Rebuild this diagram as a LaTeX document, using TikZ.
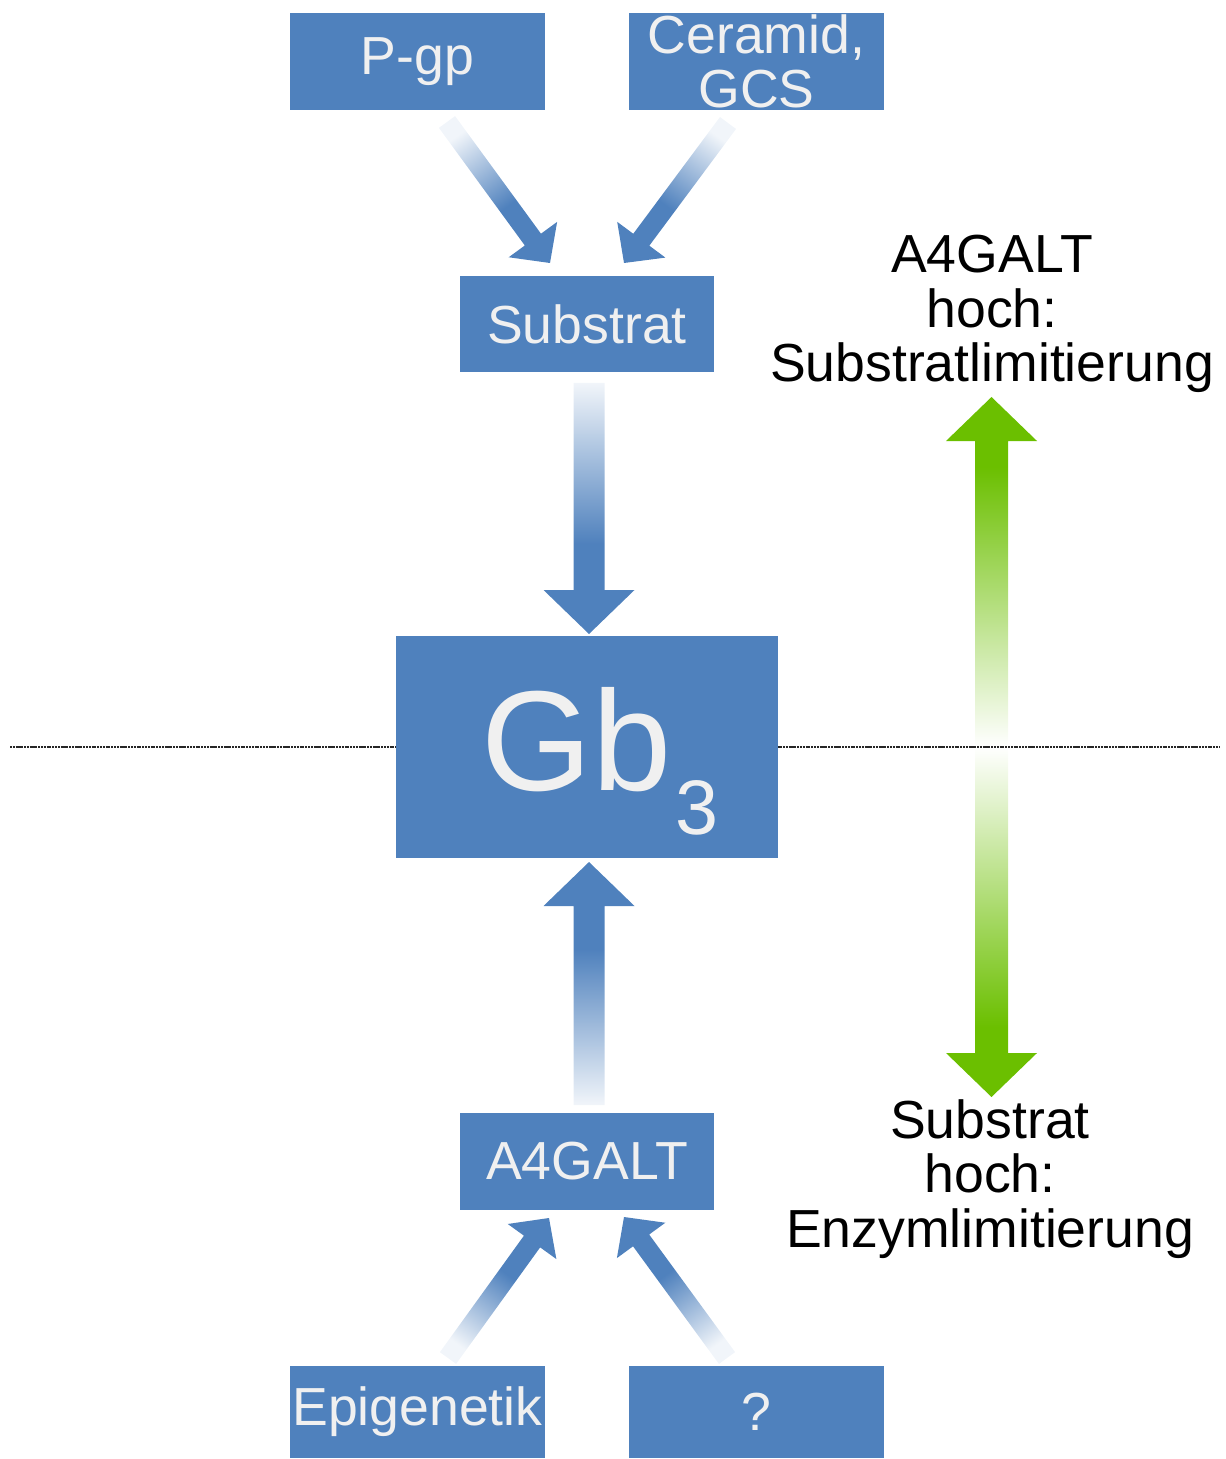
\documentclass[tikz,border=0pt]{standalone}
\usepackage{fontspec}
\setmainfont{Liberation Sans}
\usetikzlibrary{calc}
\definecolor{boxblue}{RGB}{79,129,189}
\definecolor{boxtext}{RGB}{240,240,240}
\definecolor{arrowgreen}{RGB}{107,191,0}
\pgfdeclareverticalshading{bluefade}{100bp}{color(0bp)=(boxblue); color(25bp)=(boxblue); color(43bp)=(boxblue); color(75bp)=(boxblue!8); color(100bp)=(boxblue!8)}
\pgfdeclareverticalshading{greenfade}{100bp}{color(0bp)=(arrowgreen); color(30bp)=(arrowgreen); color(50bp)=(white); color(70bp)=(arrowgreen); color(100bp)=(arrowgreen)}
\newcommand{\fadearrow}[6]{%
  \coordinate (N) at ($(#2)!#5!(#1)$);
  \shade[shading=bluefade, shading angle=#6] ($(#1)!#3!90:(#2)$) -- ($(N)!#3!90:(#2)$) -- ($(N)!#4!90:(#2)$) -- (#2)
    -- ($(N)!#4!-90:(#2)$) -- ($(N)!#3!-90:(#2)$) -- ($(#1)!#3!-90:(#2)$) -- cycle;}

\begin{document}
\begin{tikzpicture}[x=0.02cm, y=-0.02cm,
    box/.style={fill=boxblue, text=boxtext, minimum width=5.1cm, minimum height=1.94cm, inner sep=0pt, font=\fontsize{30.5}{31}\selectfont},
    note/.style={align=center, inner sep=0pt, font=\fontsize{30.5}{31}\selectfont}]
    \useasboundingbox (0,0) rectangle (1225,1459);
    \node[box] (P) at (417.5,61.5) {P-gp};
    \node[box] (C) at (756.5,61.5) {};
    \node[note, text=boxtext] (CT) at (C) {Ceramid,\\GCS};
    \node[box] (S) at (587,324) {Substrat};
    \node[box] (A) at (587,1161.5) {A4GALT};
    \node[box, minimum height=1.84cm] (E) at (417.5,1412) {Epigenetik};
    \node[box, minimum height=1.84cm] (Q) at (756.5,1412) {?};
    \coordinate (H1) at (991.5,397);
    \coordinate (H2) at (991.5,1097);
    \shade[shading=greenfade] (H1) -- (1037,441) -- (1008,441) -- (1008,1053) -- (1037,1053) -- (H2)
        -- (946,1053) -- (975,1053) -- (975,441) -- (946,441) -- cycle;
    \coordinate (L1) at (10,747);
    \coordinate (L2) at (1220,747);
    \draw[line width=0.7pt, black!85, dash pattern=on 1.2pt off 0.4pt] (L1) -- (L2);
    \node[box, minimum width=7.64cm, minimum height=4.44cm] (G) at (587,747) {};
    \node[anchor=base west, text=boxtext, inner sep=0pt, font=\fontsize{81}{81}\selectfont] (GT) at (481,790)
        {Gb\kern0.08cm\raisebox{-0.9cm}{\fontsize{44}{44}\selectfont 3}};
    \node[note, anchor=north] (T1) at (992,235) {A4GALT\\hoch:\\Substratlimitierung};
    \node[note, anchor=north] (T2) at (990,1099) {Substrat\\hoch:\\Enzymlimitierung};
    \coordinate (P1) at (447,122);
    \coordinate (S1) at (550,263);
    \coordinate (C1) at (728,123);
    \coordinate (S2) at (624,263);
    \coordinate (S3) at (589,383);
    \coordinate (G1) at (589,634);
    \coordinate (A1) at (589,1105);
    \coordinate (G2) at (589,862);
    \coordinate (E1) at (448,1358);
    \coordinate (A2) at (549,1218);
    \coordinate (Q1) at (727,1358);
    \coordinate (A3) at (624,1217);
    \fadearrow{P1}{S1}{0.2cm}{0.6cm}{0.58cm}{36}
    \fadearrow{C1}{S2}{0.2cm}{0.6cm}{0.58cm}{-36}
    \fadearrow{S3}{G1}{0.31cm}{0.91cm}{0.88cm}{0}
    \fadearrow{A1}{G2}{0.31cm}{0.91cm}{0.88cm}{180}
    \fadearrow{E1}{A2}{0.2cm}{0.6cm}{0.58cm}{144}
    \fadearrow{Q1}{A3}{0.2cm}{0.6cm}{0.58cm}{-144}
\end{tikzpicture}
\end{document}
